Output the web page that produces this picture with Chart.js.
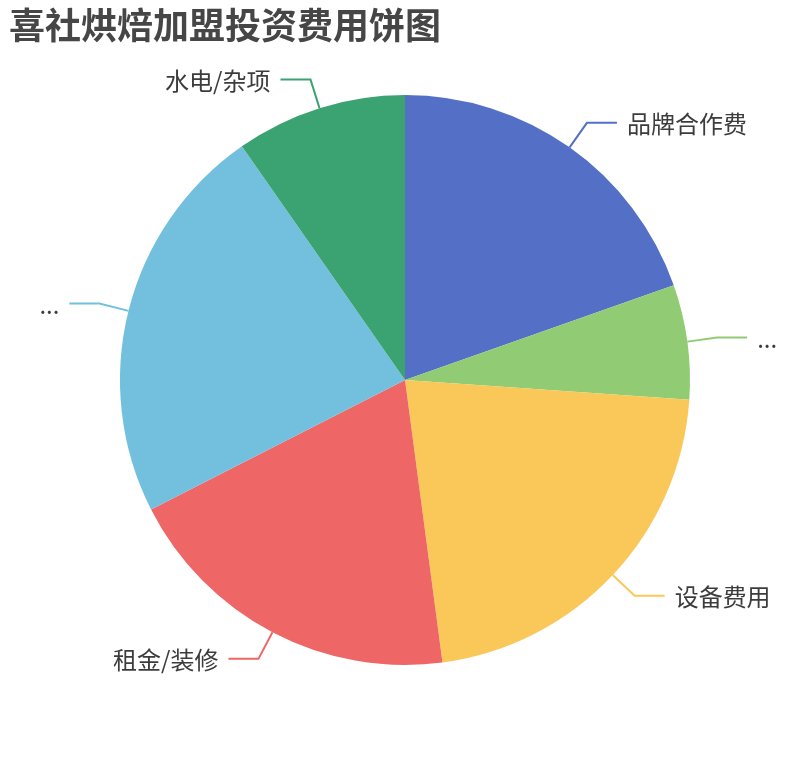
<!DOCTYPE html>
<html>
<head>
<meta charset="utf-8">
<script src="https://cdn.jsdelivr.net/npm/chart.js"></script>
<style>
  html, body { margin: 0; padding: 0; background: #fff; }
  #wrap { width: 810px; height: 760px; position: relative; }
</style>
</head>
<body>
<div id="wrap"><canvas id="pieChart" width="810" height="760"></canvas></div>
<script>
// chart data (share of the pie, %)
const title = '喜社烘焙加盟投资费用饼图'
const categories = ['品牌合作费', '...', '设备费用', '租金/装修', '...', '水电/杂项']
const costShare = [19.6, 6.5, 21.8, 19.6, 22.8, 9.7]
const colors = ['#5470c6', '#91cc75', '#fac858', '#ee6666', '#73c0de', '#3ba272']

const fontFamily = '"Noto Sans CJK SC", "Noto Sans", sans-serif'

// draws the title top-left
const titlePlugin = {
    id: 'titleText',
    afterDraw(chart) {
        const ctx = chart.ctx
        ctx.save()
        ctx.font = 'bold 36px ' + fontFamily
        ctx.fillStyle = '#464646'
        ctx.textBaseline = 'middle'
        ctx.textAlign = 'left'
        ctx.fillText(title, 9, 25)
        ctx.restore()
    }
}

// outside labels with bent leader lines
const labelPlugin = {
    id: 'outsideLabels',
    afterDatasetsDraw(chart) {
        const ctx = chart.ctx
        const meta = chart.getDatasetMeta(0)
        ctx.save()
        meta.data.forEach((arc, i) => {
            const mid = (arc.startAngle + arc.endAngle) / 2
            const r = arc.outerRadius
            const cos = Math.cos(mid), sin = Math.sin(mid)
            const x0 = arc.x + r * cos, y0 = arc.y + r * sin
            const x1 = arc.x + (r + 30) * cos, y1 = arc.y + (r + 30) * sin
            const dir = cos >= 0 ? 1 : -1
            const x2 = x1 + dir * 30
            ctx.strokeStyle = colors[i]
            ctx.lineWidth = 2
            ctx.beginPath()
            ctx.moveTo(x0, y0)
            ctx.lineTo(x1, y1)
            ctx.lineTo(x2, y1)
            ctx.stroke()
            ctx.font = '24px ' + fontFamily
            ctx.fillStyle = '#3c3c3c'
            ctx.textBaseline = 'middle'
            ctx.textAlign = dir > 0 ? 'left' : 'right'
            ctx.fillText(categories[i], x2 + dir * 10, y1 + 1)
        })
        ctx.restore()
    }
}

let ctx = document.getElementById('pieChart').getContext('2d')
let myChart = new Chart(ctx, {
    type: 'pie',
    data: {
        labels: categories,
        datasets: [{
            data: costShare,
            backgroundColor: colors,
            borderWidth: 0
        }]
    },
    options: {
        responsive: false,
        animation: false,
        layout: {
            padding: { left: 120, right: 120, top: 95, bottom: 95 }
        },
        plugins: {
            legend: { display: false },
            tooltip: { enabled: false }
        }
    },
    plugins: [titlePlugin, labelPlugin]
})
</script>
</body>
</html>
